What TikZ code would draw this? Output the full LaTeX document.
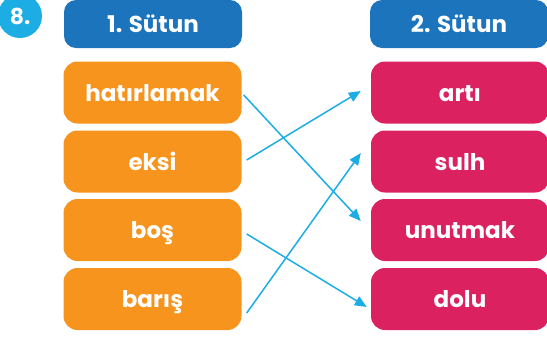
\documentclass[tikz,border=0pt]{standalone}
\usepackage{fontspec}
\setmainfont{Poppins}
\usepackage{tikz}
\usetikzlibrary{arrows.meta}
\usetikzlibrary{positioning}
\definecolor{headblue}{HTML}{1C75BC}
\definecolor{leftorange}{HTML}{F7941D}
\definecolor{rightpink}{HTML}{DB2160}
\definecolor{linkcyan}{HTML}{1BADE4}
\tikzset{
    wordbox/.style={rounded corners=14pt, minimum width=178pt, minimum height=62pt,
        inner sep=0pt, text=white, font=\fontsize{23}{26}\selectfont\bfseries,
        text height=20pt, text depth=3pt},
    headbox/.style={wordbox, fill=headblue, minimum height=48pt, rounded corners=12pt},
    leftbox/.style={wordbox, fill=leftorange},
    rightbox/.style={wordbox, fill=rightpink},
    link/.style={draw=linkcyan, line width=1.5pt, -{Triangle[length=12pt,width=10pt]}},
}
\begin{document}
\begin{tikzpicture}[x=1pt, y=-1pt]
	\useasboundingbox (0,0) rectangle (547,338);
	\node[circle, fill=linkcyan, minimum size=44pt, inner sep=0pt, text=white,
		font=\fontsize{22}{24}\selectfont\bfseries] (num) at (20,16) {8.};
	% headers
	\node[headbox] (headA) at (153,24) {1. Sütun};
	\node[headbox] (headB) at (459,24) {2. Sütun};
	% first column
	\node[leftbox] (hat) at (152.5,92.5) {hatırlamak};
	\node[leftbox] (eksi) at (152.5,161.5) {eksi};
	\node[leftbox] (bos) at (152.5,230) {boş};
	\node[leftbox] (baris) at (152.5,299) {barış};
	% second column
	\node[rightbox] (arti) at (460,92.5) {artı};
	\node[rightbox] (sulh) at (460,161.5) {sulh};
	\node[rightbox] (unut) at (460,230) {unutmak};
	\node[rightbox] (dolu) at (460,299) {dolu};
	% matches
	\draw[link] ([shift={(2,2.5)}]hat.east) -- ([shift={(-10,-9)}]unut.west);
	\draw[link] ([shift={(5,-1.5)}]eksi.east) -- ([shift={(-10,-1.5)}]arti.west);
	\draw[link] ([shift={(5,4)}]bos.east) -- ([shift={(-4,8)}]dolu.west);
	\draw[link] ([shift={(5,14)}]baris.east) -- ([shift={(-10,-8.5)}]sulh.west);
\end{tikzpicture}
\end{document}
